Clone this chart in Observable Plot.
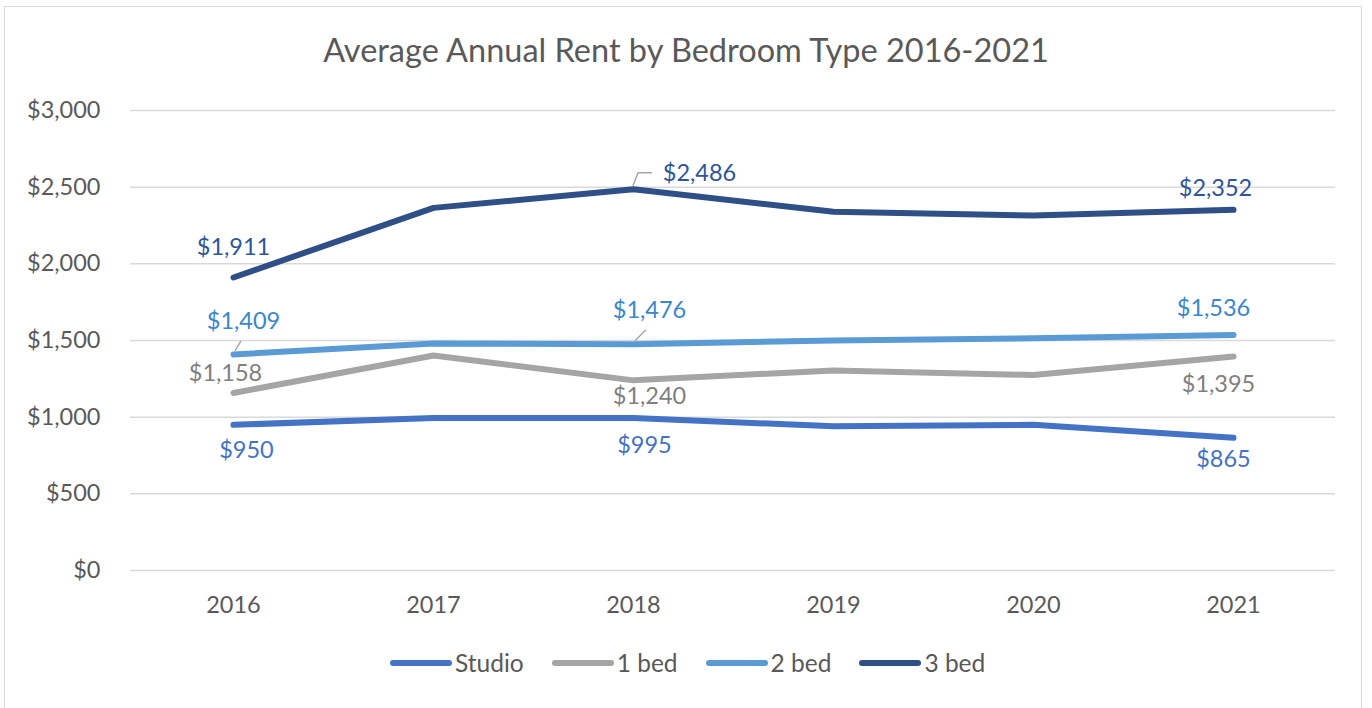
<!DOCTYPE html>
<html>
<head>
<meta charset="utf-8">
<script src="https://cdn.jsdelivr.net/npm/d3@7"></script>
<script src="https://cdn.jsdelivr.net/npm/@observablehq/plot@0.6"></script>
<style>
  body { margin: 0; background: #fff; font-family: Lato, "Open Sans", sans-serif; }
  #frame { position: absolute; left: 4px; top: 6px; width: 1358px; height: 720px; border: 1.5px solid #d9d9d9; box-sizing: border-box; }
  #title { position: absolute; left: 0; top: 30px; width: 1372px; text-align: center; font-size: 32.5px; color: #595959; line-height: 40px; }
  #chart { position: absolute; left: 0; top: 85px; }
  #legend { position: absolute; left: 390px; top: 648px; display: flex; align-items: center; font-size: 24.5px; color: #595959; line-height: 30px; }
  .item { display: flex; align-items: center; margin-right: 28px; }
  .sw { width: 62px; height: 6px; border-radius: 3px; margin-right: 3px; }
</style>
</head>
<body>
<div id="frame"></div>
<div id="title">Average Annual Rent by Bedroom Type 2016-2021</div>
<div id="chart"></div>
<div id="legend"></div>
<script>
// ---- data ----
const years = [2016, 2017, 2018, 2019, 2020, 2021];
const seriesNames = ["Studio", "1 bed", "2 bed", "3 bed"];
const studio = [950, 995, 995, 940, 950, 865];
const oneBed = [1158, 1402, 1240, 1305, 1275, 1395];
const twoBed = [1409, 1480, 1476, 1500, 1515, 1536];
const threeBed = [1911, 2365, 2486, 2340, 2315, 2352];
const yTicks = [0, 500, 1000, 1500, 2000, 2500, 3000];
const labelYears = [2016, 2018, 2021];

// ---- styles ----
const lineColors = {"Studio": "#4472C4", "1 bed": "#A5A5A5", "2 bed": "#5B9BD5", "3 bed": "#2F4F87"};
const textColors = {"Studio": "#4472C4", "1 bed": "#7F7F7F", "2 bed": "#3A87C9", "3 bed": "#2F5597"};
// label placement (pixel offsets from the point), by series then year
const labelOffsets = {
  "3 bed":  {2016: [0, -30], 2018: [66, -16], 2021: [-18, -21]},
  "2 bed":  {2016: [10, -33], 2018: [16, -34], 2021: [-20, -27]},
  "1 bed":  {2016: [-8, -19], 2018: [16, 16], 2021: [-15, 28]},
  "Studio": {2016: [13, 26], 2018: [11, 28], 2021: [-10, 22]}
};
const leaders = [
  {series: "3 bed", year: 2018, pts: [[0, -3], [5, -16], [19, -16]]},
  {series: "2 bed", year: 2016, pts: [[2, -3], [8, -13]]},
  {series: "2 bed", year: 2018, pts: [[2, -3], [13, -14]]}
];

const valuesBySeries = {"Studio": studio, "1 bed": oneBed, "2 bed": twoBed, "3 bed": threeBed};
const rows = seriesNames.flatMap(s => years.map((yr, i) => ({series: s, year: yr, value: valuesBySeries[s][i]})));
const fmt = v => "$" + d3.format(",")(v);

const labelMarks = rows
  .filter(d => labelYears.includes(d.year))
  .map(d => {
    const [dx, dy] = labelOffsets[d.series][d.year];
    return Plot.text([d], {
      x: "year", y: "value", text: d => fmt(d.value),
      dx, dy, fill: textColors[d.series], fontSize: 23.5, lineAnchor: "middle", textAnchor: "middle"
    });
  });

const leaderMark = (index, scales) => {
  const g = d3.create("svg:g");
  for (const l of leaders) {
    const v = valuesBySeries[l.series][years.indexOf(l.year)];
    const px = scales.x(l.year), py = scales.y(v);
    g.append("polyline")
      .attr("points", l.pts.map(([a, b]) => `${px + a},${py + b}`).join(" "))
      .attr("fill", "none").attr("stroke", "#A6A6A6").attr("stroke-width", 1.5);
  }
  return g.node();
};

const chart = Plot.plot({
  width: 1372,
  height: 545,
  marginLeft: 130,
  marginRight: 37,
  marginTop: 25,
  marginBottom: 60,
  style: {fontFamily: "Lato, sans-serif", fontSize: "23.5px", color: "#595959", background: "transparent"},
  x: {type: "point", domain: years, padding: 0.5, label: null, tickSize: 0, tickPadding: 26, tickFormat: d => String(d)},
  y: {domain: [0, 3000], ticks: yTicks, tickFormat: fmt, label: null, tickSize: 0, tickPadding: 30},
  marks: [
    Plot.ruleY(yTicks, {stroke: "#D9D9D9", strokeWidth: 1.5}),
    Plot.line(rows, {x: "year", y: "value", z: "series", stroke: d => lineColors[d.series], strokeWidth: 6, strokeLinecap: "round", strokeLinejoin: "round"}),
    leaderMark,
    ...labelMarks
  ]
});
document.getElementById("chart").appendChild(chart);

const legend = d3.select("#legend");
for (const s of seriesNames) {
  const it = legend.append("div").attr("class", "item");
  it.append("div").attr("class", "sw").style("background", lineColors[s]);
  it.append("span").text(s);
}
</script>
</body>
</html>
